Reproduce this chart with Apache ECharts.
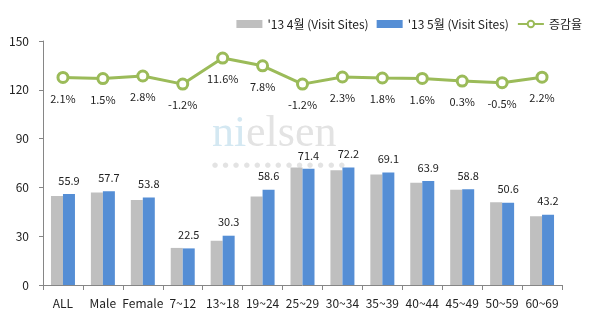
<!DOCTYPE html>
<html><head><meta charset="utf-8">
<script src="https://cdn.jsdelivr.net/npm/echarts@6/dist/echarts.min.js"></script>
<style>html,body{margin:0;padding:0;background:#fff}#c{width:595px;height:328px}</style>
</head><body><div id="c"></div>
<script>
const categories = ['ALL','Male','Female','7~12','13~18','19~24','25~29','30~34','35~39','40~44','45~49','50~59','60~69'];
const april = [54.7,56.8,52.3,22.8,27.2,54.4,72.3,70.6,67.9,62.9,58.6,50.9,42.3];
const may = [55.9,57.7,53.8,22.5,30.3,58.6,71.4,72.2,69.1,63.9,58.8,50.6,43.2];
const rate = [2.1,1.5,2.8,-1.2,11.6,7.8,-1.2,2.3,1.8,1.6,0.3,-0.5,2.2];
const yTicks = [0,30,60,90,120,150];

const font = "'Noto Sans CJK KR', 'Liberation Sans', sans-serif";
const chart = echarts.init(document.getElementById('c'));
chart.setOption({
  animation: false,
  textStyle: {fontFamily: font},
  grid: {left: 43, right: 33, top: 41, bottom: 43, containLabel: false},
  legend: {
    right: 8, top: 13, itemWidth: 26, itemHeight: 8, itemGap: 8,
    textStyle: {fontSize: 12, color: '#222', fontFamily: font},
    data: [
      {name: "'13 4월 (Visit Sites)", icon: 'rect'},
      {name: "'13 5월 (Visit Sites)", icon: 'rect'},
      {name: '증감율'}
    ]
  },
  graphic: [
    {type: 'text', left: 212, top: 112, z: 0, silent: true,
     style: {text: 'ni', font: "44px 'Liberation Serif', serif", fill: '#d4e8f2'}},
    {type: 'text', left: 246, top: 112, z: 0, silent: true,
     style: {text: 'elsen', font: "44px 'Liberation Serif', serif", fill: '#e3e3e3'}},
    {type: 'text', left: 212, top: 162, z: 0, silent: true,
     style: {text: '●  ●  ●  ●  ●  ●  ●  ●  ●  ●  ●  ●  ●', font: "7px 'DejaVu Sans', sans-serif", fill: '#e3e3e3'}}
  ],
  xAxis: {
    type: 'category', data: categories,
    axisLine: {lineStyle: {color: '#868686'}},
    axisTick: {show: true, length: 5, lineStyle: {color: '#868686'}},
    axisLabel: {fontSize: 12, color: '#222', margin: 12, interval: 0}
  },
  yAxis: [
    {type: 'value', min: 0, max: 150, interval: 30,
     axisLine: {show: true, lineStyle: {color: '#868686'}},
     axisTick: {show: true, length: 4, lineStyle: {color: '#868686'}},
     splitLine: {show: false},
     axisLabel: {fontSize: 12, color: '#222', margin: 14}},
    {type: 'value', min: -100, max: 20, show: false, splitLine: {show: false}}
  ],
  series: [
    {name: "'13 4월 (Visit Sites)", type: 'bar', data: april, barWidth: 12, barGap: '0%',
     itemStyle: {color: '#bfbfbf'}},
    {name: "'13 5월 (Visit Sites)", type: 'bar', data: may, barWidth: 12,
     itemStyle: {color: '#558ed5'},
     label: {show: true, position: 'top', distance: 8, fontSize: 11, color: '#222',
       formatter: p => p.value.toFixed(1)}},
    {name: '증감율', type: 'line', yAxisIndex: 1, data: rate,
     symbol: 'circle', symbolSize: 10,
     lineStyle: {color: '#9bbb59', width: 3},
     itemStyle: {color: '#fff', borderColor: '#9bbb59', borderWidth: 3},
     label: {show: true, position: 'bottom', distance: 9, fontSize: 11, color: '#222',
       formatter: p => p.value.toFixed(1) + '%'}}
  ]
});
</script></body></html>
